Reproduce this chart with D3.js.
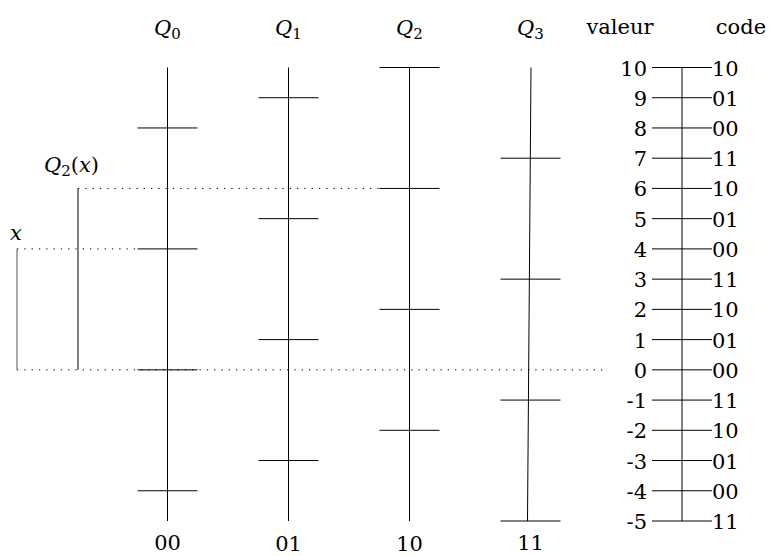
<!DOCTYPE html>
<html><head><meta charset="utf-8">
<script src="https://cdn.jsdelivr.net/npm/d3@7"></script>
<style>
html,body{margin:0;padding:0;background:#fff;}
svg{display:block;}
</style></head>
<body>
<svg id="c" width="771" height="556"></svg>
<script>
// Data
const quantizers = ["Q0","Q1","Q2","Q3"];
const quantCodes = ["00","01","10","11"];
const q0Levels = [8,4,0,-4];
const q1Levels = [9,5,1,-3];
const q2Levels = [10,6,2,-2];
const q3Levels = [7,3,-1,-5];
const scaleValues = [10,9,8,7,6,5,4,3,2,1,0,-1,-2,-3,-4,-5];
const scaleCodes = ["10","01","00","11","10","01","00","11","10","01","00","11","10","01","00","11"];
const xValue = 4;
const q2OfX = 6;
const levels = [q0Levels,q1Levels,q2Levels,q3Levels];

const FONT = "DejaVu Serif";
const svg = d3.select("#c");
const y = d3.scaleLinear().domain([-5,10]).range([521,67.5]);
const x = d3.scalePoint().domain(quantizers).range([167.5,530.5]);
const tickHalf = 30;
const FS = 21;
const SUB = 15;

function txt(sel){ return sel.append("text").style("font-family",FONT).attr("fill","#000"); }

quantizers.forEach((q,i)=>{
  const cx = x(q);
  const xTop = i===3 ? cx+0.5 : cx;
  const xBot = i===3 ? cx-3 : cx;
  svg.append("line").attr("x1",xTop).attr("x2",xBot)
    .attr("y1",y(10)).attr("y2",y(-5))
    .attr("stroke","#000").attr("stroke-width",1);
  svg.selectAll(null).data(levels[i]).enter().append("line")
    .attr("x1",cx-tickHalf).attr("x2",cx+tickHalf)
    .attr("y1",d=>y(d)).attr("y2",d=>y(d))
    .attr("stroke","#000").attr("stroke-width",1);
  const t = txt(svg).attr("x",cx).attr("y",35)
    .attr("text-anchor","middle").attr("font-size",FS);
  t.append("tspan").style("font-style","italic").text("Q");
  t.append("tspan").attr("font-size",SUB).attr("dy",4).text(q.slice(1));
  const by = [550,551,551,550][i];
  txt(svg).attr("x",cx).attr("y",by).attr("text-anchor","middle")
    .attr("font-size",FS).text(quantCodes[i]);
});

function dotted(x1,x2,v){
  svg.append("line").attr("x1",x1).attr("x2",x2).attr("y1",y(v)).attr("y2",y(v))
    .attr("stroke","#000").attr("stroke-width",1).attr("stroke-dasharray","1.3 6");
}
dotted(78, x("Q2")-tickHalf, q2OfX);
dotted(17, x("Q0")-tickHalf, xValue);
dotted(17, 607, 0);

svg.append("line").attr("x1",17).attr("x2",17).attr("y1",y(xValue)).attr("y2",y(0))
  .attr("stroke","#555").attr("stroke-width",1);
svg.append("line").attr("x1",78).attr("x2",78).attr("y1",y(q2OfX)).attr("y2",y(0))
  .attr("stroke","#000").attr("stroke-width",1);

txt(svg).attr("x",10).attr("y",240).attr("font-size",FS)
  .style("font-style","italic").text("x");
const ql = txt(svg).attr("x",44).attr("y",172).attr("font-size",FS);
ql.append("tspan").style("font-style","italic").text("Q");
ql.append("tspan").attr("font-size",SUB).attr("dy",4).text("2");
ql.append("tspan").attr("dy",-4).text("(");
ql.append("tspan").style("font-style","italic").text("x");
ql.append("tspan").text(")");

const sx = 682;
svg.append("line").attr("x1",sx).attr("x2",sx).attr("y1",y(10)).attr("y2",y(-5))
  .attr("stroke","#000").attr("stroke-width",1);
svg.selectAll(null).data(scaleValues).enter().append("line")
  .attr("x1",652).attr("x2",712).attr("y1",d=>y(d)).attr("y2",d=>y(d))
  .attr("stroke","#000").attr("stroke-width",1);
svg.selectAll(null).data(scaleValues).enter().append("text")
  .style("font-family",FONT)
  .attr("x",647).attr("y",d=>y(d)+8).attr("text-anchor","end").attr("font-size",FS)
  .text(d=>d);
svg.selectAll(null).data(scaleCodes).enter().append("text")
  .style("font-family",FONT)
  .attr("x",712).attr("y",(d,i)=>y(scaleValues[i])+8).attr("font-size",FS)
  .text(d=>d);

txt(svg).attr("x",620).attr("y",34).attr("text-anchor","middle").attr("font-size",FS).text("valeur");
txt(svg).attr("x",741).attr("y",34).attr("text-anchor","middle").attr("font-size",FS).text("code");
</script>
</body></html>
